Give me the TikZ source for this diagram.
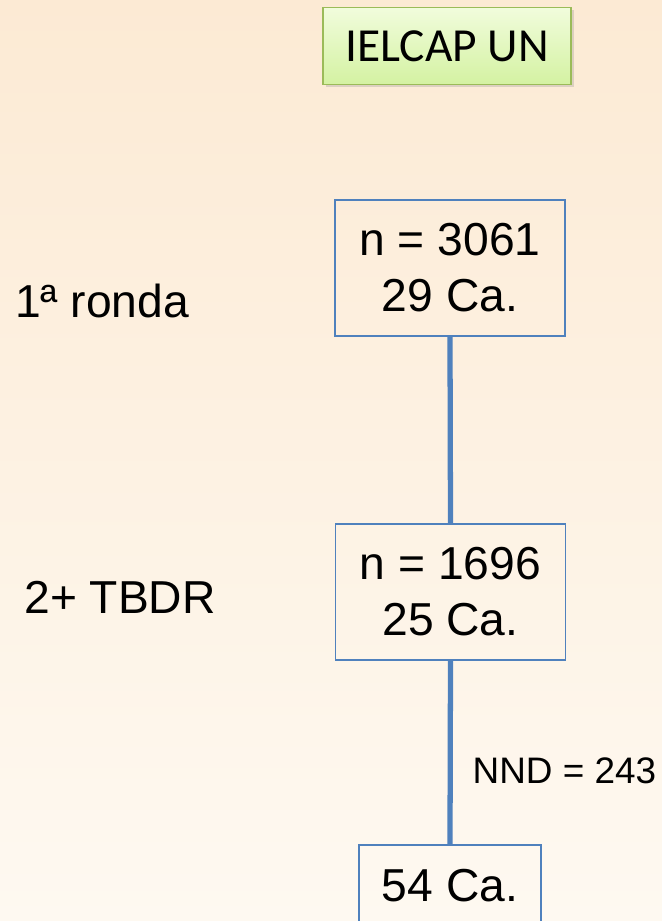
\documentclass[tikz,border=0pt]{standalone}
\usepackage{fontspec}
\setmainfont{Liberation Sans}
\newfontfamily\calibri{Carlito}
\usepackage{tikz}
\usetikzlibrary{positioning, shadows}
\definecolor{bgtop}{HTML}{FCEAD4}
\definecolor{bgbottom}{HTML}{FEF9F1}
\definecolor{boxblue}{HTML}{4F81BD}
\definecolor{tagborder}{HTML}{9BBB59}
\definecolor{tagtop}{HTML}{F1FCDC}
\definecolor{tagbottom}{HTML}{D4F2A2}

\begin{document}
\begin{tikzpicture}[
    x=0.02cm, y=-0.02cm,
    tag/.style={draw=tagborder, line width=1.1pt, top color=tagtop, bottom color=tagbottom,
                drop shadow={opacity=0.25, shadow xshift=1.5pt, shadow yshift=-1.5pt},
                minimum width=4.96cm, minimum height=1.54cm, font=\calibri\fontsize{27}{32}\selectfont},
    box/.style={draw=boxblue, line width=1.1pt, minimum width=4.6cm, minimum height=2.72cm,
                align=center, font=\fontsize{26.3}{31.9}\selectfont},
    side/.style={font=\fontsize{26.3}{31.9}\selectfont, anchor=base},
    link/.style={draw=boxblue, line width=3pt},
]
    \useasboundingbox (0,0) rectangle (662,921);
    \clip (0,0) rectangle (662,921);
    \shade[top color=bgtop, bottom color=bgbottom] (0,0) rectangle (662,921);

    \node[tag] (ielcap) at (447, 46) {IELCAP UN};

    \node[box] (r1) at (450, 268) {n = 3061\\29 Ca.};
    \node[box] (r2) at (450.5, 592) {n = 1696\\25 Ca.};
    \node[box, minimum width=3.64cm, minimum height=1.64cm] (fin) at (450, 886) {54 Ca.};

    \node[side] (ronda) at (102, 317) {1ª ronda};
    \node[side] (tbdr) at (120, 613) {2+ TBDR};

    \draw[link] (r1.south) -- (r2.north);
    \draw[link] (r2.south) -- (fin.north)
        node[pos=0.6, right=0.28cm, font=\fontsize{21}{24}\selectfont] (nnd) {NND = 243};
\end{tikzpicture}
\end{document}
